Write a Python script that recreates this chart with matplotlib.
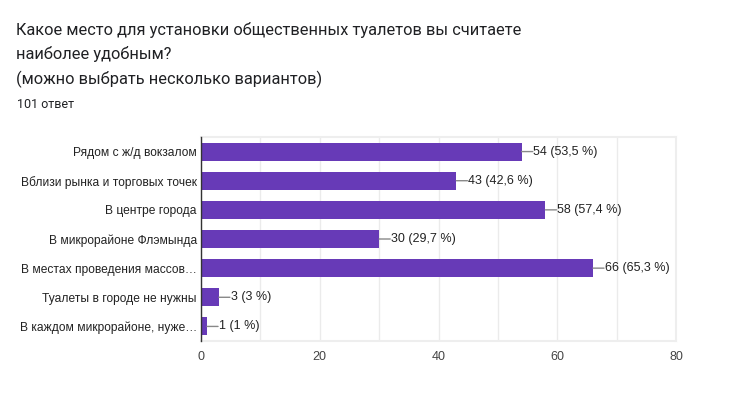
import matplotlib
matplotlib.use("Agg")
import matplotlib.pyplot as plt

categories = [
    "Рядом с ж/д вокзалом",
    "Вблизи рынка и торговых точек",
    "В центре города",
    "В микрорайоне Флэмында",
    "В местах проведения массов…",
    "Туалеты в городе не нужны",
    "В каждом микрорайоне, нуже…",
]
values = [54, 43, 58, 30, 66, 3, 1]
labels = ["54 (53,5 %)", "43 (42,6 %)", "58 (57,4 %)", "30 (29,7 %)",
          "66 (65,3 %)", "3 (3 %)", "1 (1 %)"]
xticks = [0, 20, 40, 60, 80]

fig = plt.figure(figsize=(7.55, 3.99), dpi=100)
ax = fig.add_axes([201/755, 1-341/399, (676-201)/755, (341-137)/399])

y = list(range(len(categories)))
ax.barh(y, values, height=0.62, color="#673ab7", zorder=3)
ax.set_ylim(len(categories)-0.5, -0.5)
ax.set_xlim(0, 80)
ax.set_xticks(xticks)
ax.set_xticks(range(0, 81, 10), minor=True)
ax.grid(axis="x", which="both", color="#ebebeb", lw=1, zorder=0)
ax.set_yticks(y)
ax.set_yticklabels(categories, fontfamily="Liberation Sans", fontsize=8.65, color="#222222")
ax.tick_params(axis="y", length=0, pad=3)
ax.tick_params(axis="x", which="both", length=0, pad=7, labelsize=9, labelcolor="#444444")
for lab in ax.get_xticklabels():
    lab.set_fontfamily("Liberation Sans")
for s in ["top", "right", "bottom"]:
    ax.spines[s].set_color("#eeeeee")
    ax.spines[s].set_linewidth(1.5)
ax.spines["left"].set_color("#333333")
ax.spines["left"].set_linewidth(1)
ax.spines["left"].set_zorder(4)

for yi, v, lab in zip(y, values, labels):
    ax.annotate("", xy=(v, yi), xytext=(8, 0), textcoords="offset points",
                arrowprops=dict(arrowstyle="-", color="#888888", lw=1,
                                shrinkA=0, shrinkB=0))
    ax.annotate(lab, xy=(v, yi), xytext=(8.5, 0), textcoords="offset points",
                va="center", ha="left", fontsize=9, color="#222222",
                fontfamily="Liberation Sans")

title = "Какое место для установки общественных туалетов вы считаете\nнаиболее удобным?\n(можно выбрать несколько вариантов)"
fig.text(16/755, 1-22/399, title, ha="left", va="top", fontsize=11.8,
         fontfamily="Roboto", color="#202124", linespacing=1.62)
fig.text(17/755, 1-104/399, "101 ответ", ha="left", va="center", fontsize=9,
         fontfamily="Roboto", color="#202124")

fig.savefig("out.png", dpi=100, facecolor="white")
